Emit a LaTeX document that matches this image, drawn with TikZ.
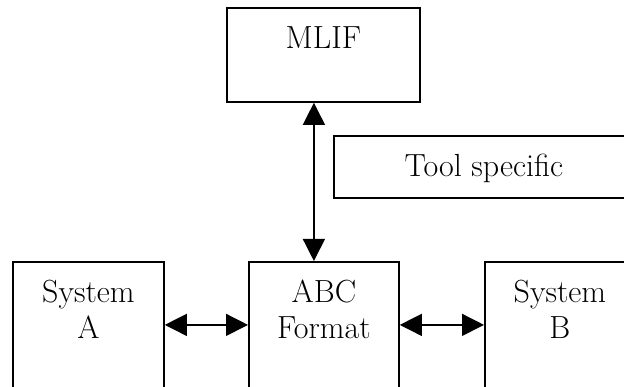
\documentclass[tikz,border=0pt]{standalone}
\usepackage{fontspec}
\usetikzlibrary{arrows.meta}
\tikzset{every node/.style={font=\fontsize{32}{36}\selectfont},
	block/.style={draw,line width=1.8pt,inner sep=0pt,align=center,text height=41pt,anchor=north west},
	link/.style={{Triangle[length=22pt,width=22pt]}-{Triangle[length=22pt,width=22pt]},line width=1.4pt}}
\newcommand{\sysblock}[6][]{\node[block,minimum width=#5,text depth=#6,#1] at (#2) (#3) {#4}}

\begin{document}
\begin{tikzpicture}[x=1pt,y=1pt]
		\useasboundingbox (0,0) rectangle (624,-387);
		\clip (0,0) rectangle (624,-387);
		\sysblock{226,-7}{mlif}{MLIF}{193pt}{53pt};
		\sysblock{333,-135}{tool}{Tool specific}{300pt}{21pt};
		\sysblock[text height=77pt]{12,-261}{sysa}{System\\A}{151pt}{100pt};
		\sysblock[text height=77pt]{248,-261}{abc}{ABC\\Format}{150pt}{100pt};
		\sysblock[text height=77pt]{484,-261}{sysb}{System\\B}{150pt}{100pt};
		
		\draw[link] ([xshift=-10pt]abc.north) -- ([xshift=-10pt]abc.north |- mlif.south);
		\draw[link] ([yshift=14pt]sysa.base east) -- ([yshift=14pt]abc.base west);
		\draw[link] ([yshift=14pt]abc.base east) -- ([yshift=14pt]sysb.base west);
	\end{tikzpicture}
\end{document}
